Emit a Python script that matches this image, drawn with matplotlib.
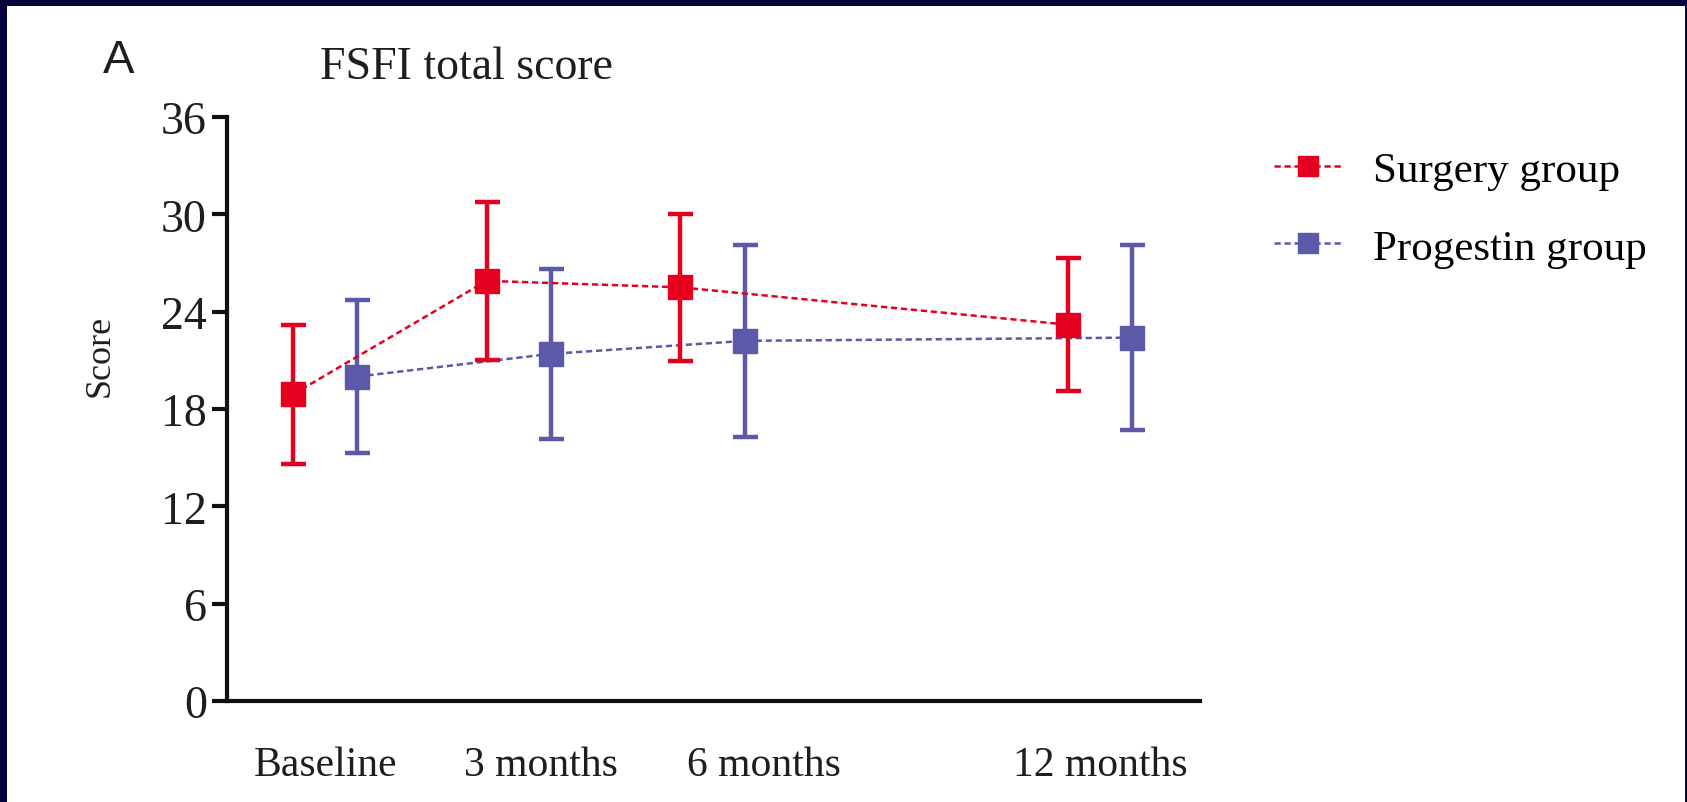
import matplotlib
matplotlib.use("Agg")
import matplotlib.pyplot as plt
from matplotlib.patches import Rectangle
from matplotlib.lines import Line2D

# FSFI total score, mean +/- SD at each follow-up
timepoints = ["Baseline", "3 months", "6 months", "12 months"]
months = [0, 3, 6, 12]
label_pos = [0.0, 3.35, 6.8, 12.0]

surgery_mean = [18.9, 25.9, 25.5, 23.2]
surgery_sd = [4.3, 4.85, 4.55, 4.1]
progestin_mean = [20.0, 21.4, 22.2, 22.4]
progestin_sd = [4.7, 5.25, 5.9, 5.7]

RED = "#e6001f"
BLUE = "#5b59a8"
NAVY = "#03023a"
SERIF = "Liberation Serif"
DASH = (0, (2.5, 1.5))


def main():
    fig = plt.figure(figsize=(16.87, 8.03), dpi=100, facecolor=NAVY)
    # white panel inside the dark frame
    fig.patches.append(Rectangle((7 / 1687, 0), 1 - 9 / 1687, 1 - 7 / 803,
                                 transform=fig.transFigure, facecolor="white",
                                 edgecolor="none", zorder=-5))

    ax = fig.add_axes([227 / 1687, 101 / 803, 973 / 1687, 584 / 803])
    ax.set_facecolor("none")

    offset = 0.5
    xs_s = [m - offset for m in months]
    xs_p = [m + offset for m in months]

    common = dict(fmt="s", ls=DASH, lw=1.8, markersize=17,
                  elinewidth=3.2, capsize=9, capthick=3.2, clip_on=False)
    ax.errorbar(xs_s, surgery_mean, yerr=surgery_sd, color=RED, zorder=3,
                **common)
    ax.errorbar(xs_p, progestin_mean, yerr=progestin_sd, color=BLUE, zorder=2,
                **common)

    ax.set_xlim(-1.52, 13.55)
    ax.set_ylim(0, 36)
    ax.set_yticks([0, 6, 12, 18, 24, 30, 36])
    ax.set_xticks(label_pos)
    ax.set_xticklabels(timepoints)

    for side in ("top", "right"):
        ax.spines[side].set_visible(False)
    for side in ("left", "bottom"):
        ax.spines[side].set_linewidth(3)
        ax.spines[side].set_color("#111111")

    ax.tick_params(axis="y", direction="out", length=10.5, width=3,
                   pad=4, labelsize=33, color="#111111")
    ax.tick_params(axis="x", length=0, pad=32, labelsize=30)
    for lbl in ax.get_xticklabels() + ax.get_yticklabels():
        lbl.set_fontfamily(SERIF)
        lbl.set_color("#1e1e1e")

    fig.text(100 / 1687, 1 - 356 / 803, "Score", rotation=90, ha="center",
             va="center", fontsize=26, family=SERIF, color="#1e1e1e")
    fig.text(466 / 1687, 1 - 68 / 803, "FSFI total score", ha="center",
             va="center", fontsize=33, family=SERIF, color="#1e1e1e")
    fig.text(119 / 1687, 1 - 61 / 803, "A", ha="center", va="center",
             fontsize=34, family="Liberation Sans", color="#1e1e1e")

    handles = [
        Line2D([], [], color=RED, ls=DASH, lw=1.8, marker="s", markersize=14),
        Line2D([], [], color=BLUE, ls=DASH, lw=1.8, marker="s", markersize=14),
    ]
    fig.legend(handles, ["Surgery group", "Progestin group"], loc="upper left",
               bbox_to_anchor=(1252 / 1687, 1 - 130 / 803),
               frameon=False, borderpad=0, handlelength=1.6,
               handletextpad=0.7, labelspacing=0.9,
               prop={"family": SERIF, "size": 31})

    fig.savefig("out.png", dpi=100, facecolor=NAVY)


if __name__ == "__main__":
    main()
